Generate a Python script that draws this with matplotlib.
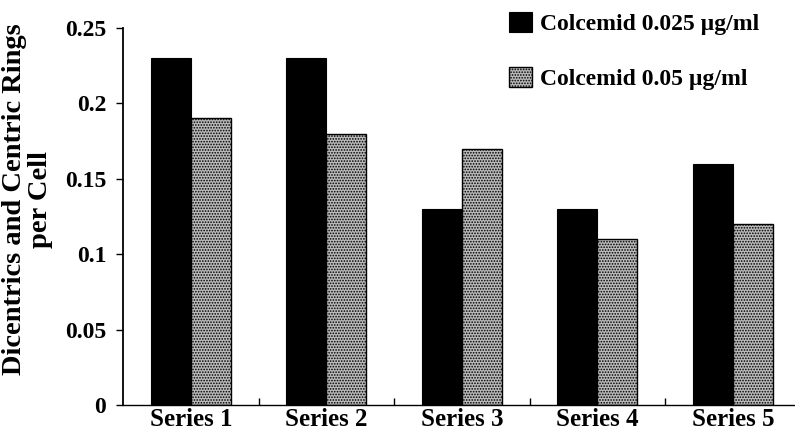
import matplotlib
matplotlib.use("Agg")
import matplotlib.pyplot as plt
import numpy as np

categories = ["Series 1", "Series 2", "Series 3", "Series 4", "Series 5"]
low_dose = [0.23, 0.23, 0.13, 0.13, 0.16]
high_dose = [0.19, 0.18, 0.17, 0.11, 0.12]
series_names = ["Colcemid 0.025 \u00b5g/ml", "Colcemid 0.05 \u00b5g/ml"]
yticks = [0, 0.05, 0.1, 0.15, 0.2, 0.25]
ytick_labels = ["0", "0.05", "0.1", "0.15", "0.2", "0.25"]

plt.rcParams['font.family'] = ['Liberation Serif', 'DejaVu Serif']
plt.rcParams['font.weight'] = 'bold'
plt.rcParams['hatch.linewidth'] = 0.8
plt.rcParams['hatch.color'] = '#333333'

fig = plt.figure(figsize=(7.95, 4.32), dpi=100)
ax = fig.add_axes([123/795, 27/432, (800.7-123)/795, (405-28)/432])

x = np.arange(len(categories))
w = 0.295
b1 = ax.bar(x - w/2, low_dose, w, color='black', edgecolor='black', linewidth=0.8,
            label=series_names[0])
b2 = ax.bar(x + w/2, high_dose, w, facecolor='#bababa', edgecolor='black', linewidth=1.0,
            hatch='......', label=series_names[1])

ax.set_xlim(-0.5, len(categories) - 0.5)
ax.set_ylim(0, 0.25)
ax.set_yticks(yticks)
ax.set_yticklabels(ytick_labels, fontsize=17, fontweight='bold')
ax.set_xticks(x)
ax.set_xticklabels(categories, fontsize=18, fontweight='bold')
ax.tick_params(axis='x', length=0, pad=2)
ax.set_xticks(np.arange(len(categories) - 1) + 0.5, minor=True)
ax.tick_params(axis='x', which='minor', direction='in', length=5, width=1)
ax.tick_params(axis='y', direction='out', length=5, width=1, pad=7)

for s in ['top', 'right']:
    ax.spines[s].set_visible(False)
ax.spines['left'].set_linewidth(1.3)
ax.spines['bottom'].set_linewidth(1.0)

ax.set_ylabel("Dicentrics and Centric Rings\nper Cell", fontsize=20.5,
              fontweight='bold', linespacing=1.05)
ax.yaxis.set_label_coords((53 - 123) / 677.7, (405 - 199) / 377)

leg = ax.legend(handles=[b1, b2], labels=series_names,
                loc='upper left', bbox_to_anchor=(509/795, 1.0 - 12/432),
                bbox_transform=fig.transFigure, frameon=False,
                prop={'family': 'Liberation Serif', 'weight': 'bold', 'size': 17},
                handlelength=0.97, handleheight=0.9, handletextpad=0.34,
                labelspacing=1.36, borderaxespad=0, borderpad=0)

fig.savefig("out.png", dpi=100)
